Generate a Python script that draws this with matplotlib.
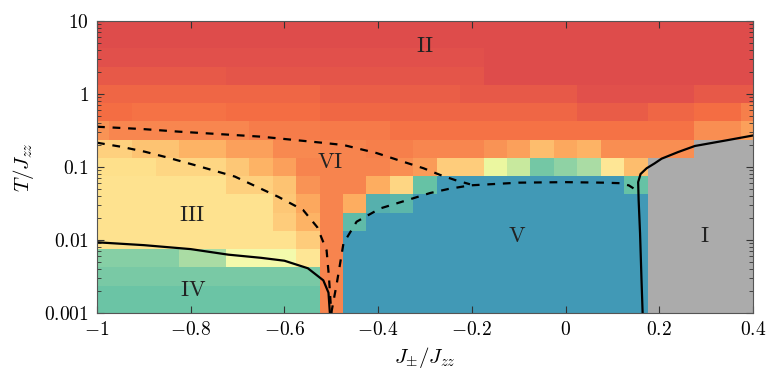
import numpy as np
import matplotlib
matplotlib.use("Agg")
import matplotlib.pyplot as plt
from matplotlib.ticker import FixedLocator, FixedFormatter, LogLocator, NullFormatter

plt.rcParams['mathtext.fontset'] = 'cm'
plt.rcParams['font.family'] = 'serif'

# cell centres of the map
x_centers = [-1.0, -0.95, -0.9, -0.85, -0.8, -0.75, -0.7, -0.65, -0.6, -0.55,
             -0.5, -0.45, -0.4, -0.35, -0.3, -0.25, -0.2, -0.15, -0.1, -0.05,
             0.0, 0.05, 0.1, 0.15, 0.2, 0.25, 0.3, 0.35, 0.4]
logT_centers = [1.0, 0.75, 0.5, 0.25, 0.0, -0.25, -0.5, -0.75, -1.0, -1.25,
                -1.5, -1.75, -2.0, -2.25, -2.5, -2.75, -3.0]

G = np.nan  # region I (grey)

# colour value of each cell (0..1 on the Spectral scale), rows from T=10 down to T=0.001
row_10 = [0.13] * 29
row_56 = [0.13] * 29
row_32 = [0.14] * 17 + [0.13] * 12
row_18 = [0.16] * 6 + [0.15] * 11 + [0.13] * 12
row_1 = [0.185] * 10 + [0.17] * 6 + [0.16] * 5 + [0.14] * 5 + [0.16] * 3
row_056 = [0.2, 0.2, 0.21, 0.21, 0.21, 0.21, 0.2, 0.2, 0.2, 0.2,
           0.19, 0.19, 0.19] + [0.185] * 8 + [0.165] * 3 + [0.185, 0.185, 0.2, 0.2, 0.23]
row_032 = [0.26] + [0.24] * 6 + [0.225] * 3 + [0.22] * 3 + [0.21] * 13 + [0.25, 0.25, 0.28]
row_018 = [0.37, 0.37, 0.34, 0.34, 0.31, 0.31, 0.28, 0.28, 0.245, 0.245,
           0.235, 0.235, 0.23, 0.23, 0.24, 0.24, 0.24, 0.26, 0.28, 0.33,
           0.29, 0.31, 0.25, 0.25, 0.25, 0.25, G, G, G]
row_01 = [0.40, 0.40, 0.40, 0.38, 0.38, 0.38, 0.35, 0.31, 0.28, 0.235,
          0.235, 0.235, 0.235, 0.25, 0.27, 0.36, 0.36, 0.58, 0.65, 0.78,
          0.74, 0.70, 0.42, 0.33, G, G, G, G, G]
row_0056 = [0.41] * 6 + [0.37, 0.37, 0.34, 0.26, 0.235, 0.235, 0.30, 0.38, 0.80] + \
           [0.87] * 8 + [0.80] + [G] * 5
row_0032 = [0.41] * 8 + [0.35, 0.29, 0.235, 0.30, 0.83, 0.82] + [0.87] * 10 + [G] * 5
row_0018 = [0.41] * 8 + [0.36, 0.31, 0.235, 0.81] + [0.87] * 12 + [G] * 5
row_001 = [0.41] * 9 + [0.36, 0.235] + [0.87] * 13 + [G] * 5
row_00056 = [0.75] * 4 + [0.70, 0.70, 0.55, 0.55, 0.55, 0.42, 0.235] + [0.87] * 13 + [G] * 5
row_00032 = [0.77] * 10 + [0.235] + [0.87] * 13 + [G] * 5
row_00018 = [0.79] * 10 + [0.235] + [0.87] * 13 + [G] * 5
row_0001 = [0.79] * 10 + [0.235] + [0.87] * 13 + [G] * 5

# phase boundaries
solid_left_x = [-1.0, -0.9, -0.8, -0.72, -0.65, -0.6, -0.55, -0.517, -0.506, -0.503]
solid_left_T = [0.0093, 0.0085, 0.0075, 0.0063, 0.0057, 0.0052, 0.0041, 0.0028, 0.0019, 0.001]
solid_right_x = [0.1645, 0.162, 0.159, 0.156, 0.155, 0.16, 0.173, 0.19, 0.205, 0.24, 0.276, 0.347, 0.4]
solid_right_T = [0.001, 0.003, 0.0124, 0.035, 0.062, 0.08, 0.096, 0.112, 0.13, 0.16, 0.194, 0.234, 0.27]
dash_top_x = [-1.0, -0.9, -0.826, -0.75, -0.649, -0.52, -0.474, -0.403, -0.35, -0.303, -0.268, -0.235, -0.204]
dash_top_T = [0.356, 0.33, 0.305, 0.285, 0.26, 0.215, 0.2, 0.155, 0.12, 0.096, 0.078, 0.066, 0.058]
dash_left_x = [-1.0, -0.95, -0.898, -0.85, -0.791, -0.706, -0.613, -0.56, -0.53, -0.51, -0.505, -0.5]
dash_left_T = [0.215, 0.19, 0.162, 0.135, 0.106, 0.074, 0.039, 0.0257, 0.015, 0.0072, 0.0031, 0.001]
dash_right_x = [-0.5, -0.488, -0.474, -0.446, -0.396, -0.339, -0.289, -0.25, -0.204, -0.1,
                0.0, 0.08, 0.116, 0.135, 0.145]
dash_right_T = [0.001, 0.0026, 0.009, 0.0178, 0.027, 0.035, 0.044, 0.05, 0.056, 0.061,
                0.062, 0.061, 0.06, 0.056, 0.051]

region_names = ['I', 'II', 'III', 'IV', 'V', 'VI']
region_x = [0.297, -0.3, -0.797, -0.795, -0.104, -0.503]
region_T = [0.0113, 4.5, 0.022, 0.00207, 0.0113, 0.117]

rows = [row_10, row_56, row_32, row_18, row_1, row_056, row_032, row_018, row_01,
        row_0056, row_0032, row_0018, row_001, row_00056, row_00032, row_00018, row_0001]
Z = np.ma.masked_invalid(np.array(rows[::-1], dtype=float))

xc = np.array(x_centers)
lc = np.array(logT_centers[::-1])
x_edges = np.concatenate([xc - 0.025, [xc[-1] + 0.025]])
y_edges = 10 ** np.concatenate([lc - 0.125, [lc[-1] + 0.125]])

cmap = plt.get_cmap('Spectral').copy()
cmap.set_bad('#ababab')

fig = plt.figure(figsize=(7.67, 3.74), dpi=100)
ax = fig.add_axes([0.1265, 0.1631, 0.8552, 0.7808])
ax.pcolormesh(x_edges, y_edges, Z, cmap=cmap, vmin=0, vmax=1, shading='flat')

ax.plot(solid_left_x, solid_left_T, color='black', lw=1.6)
ax.plot(solid_right_x, solid_right_T, color='black', lw=1.6)
for xs, ts in [(dash_top_x, dash_top_T), (dash_left_x, dash_left_T), (dash_right_x, dash_right_T)]:
    ax.plot(xs, ts, color='black', lw=1.6, ls=(0, (3.5, 3.5)))

for name, x, t in zip(region_names, region_x, region_T):
    ax.text(x, t, r'$\mathrm{%s}$' % name, fontsize=16, ha='center', va='center', color='#222222')

ax.set_yscale('log')
ax.set_xlim(-1, 0.4)
ax.set_ylim(0.001, 10)

xt = [-1, -0.8, -0.6, -0.4, -0.2, 0, 0.2, 0.4]
ax.xaxis.set_major_locator(FixedLocator(xt))
ax.xaxis.set_major_formatter(FixedFormatter([r'$-1$', r'$-0.8$', r'$-0.6$', r'$-0.4$',
                                             r'$-0.2$', r'$0$', r'$0.2$', r'$0.4$']))
yt = [0.001, 0.01, 0.1, 1, 10]
ax.yaxis.set_major_locator(FixedLocator(yt))
ax.yaxis.set_major_formatter(FixedFormatter([r'$0.001$', r'$0.01$', r'$0.1$', r'$1$', r'$10$']))
ax.yaxis.set_minor_locator(LogLocator(base=10, subs=np.arange(2, 10)))
ax.yaxis.set_minor_formatter(NullFormatter())

ax.tick_params(which='both', direction='in', top=True, right=True, labelsize=14, color='#333333')
ax.tick_params(which='major', length=5, width=0.8, pad=6)
ax.tick_params(which='minor', length=3, width=0.6)
for s in ax.spines.values():
    s.set_color('#555555')
    s.set_linewidth(0.8)

ax.set_xlabel(r'$J_{\pm}/J_{zz}$', fontsize=15, labelpad=4)
ax.set_ylabel(r'$T/J_{zz}$', fontsize=15, labelpad=6)

fig.savefig('out.png', dpi=100)
